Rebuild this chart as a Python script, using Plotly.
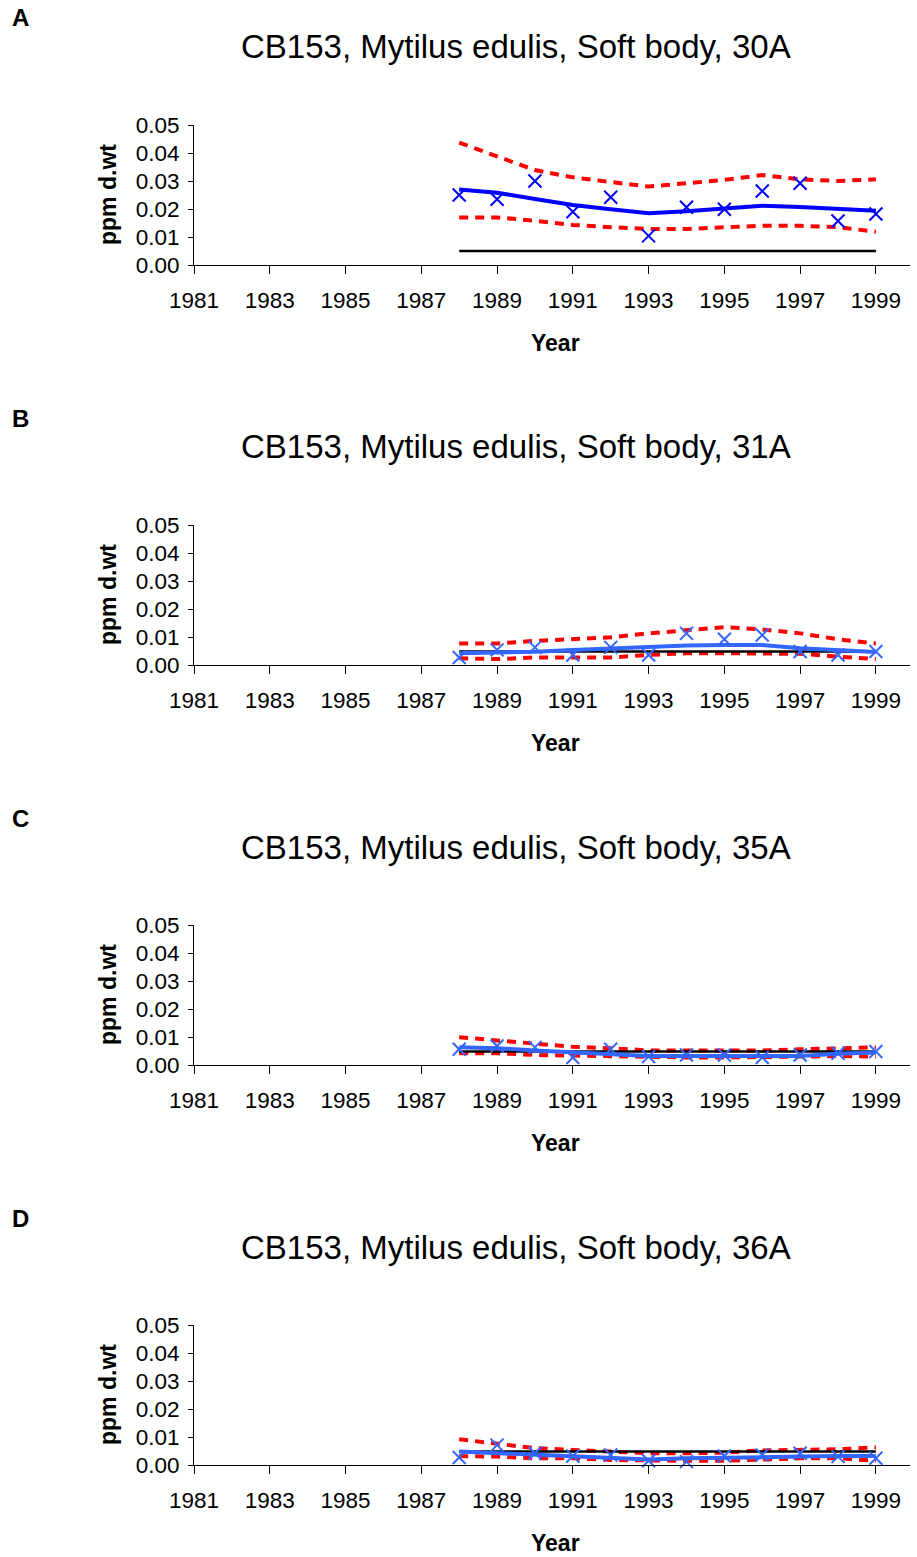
import plotly.graph_objects as go

years = [1988, 1989, 1990, 1991, 1992, 1993, 1994, 1995, 1996, 1997, 1998, 1999]
tick_years = list(range(1981, 2000, 2))
y_ticks = [0.00, 0.01, 0.02, 0.03, 0.04, 0.05]

stations = ["30A", "31A", "35A", "36A"]
panel_letters = ["A", "B", "C", "D"]

# Observed annual concentrations (ppm d.wt)
obs_30A = [0.0250, 0.0235, 0.0300, 0.0190, 0.0242, 0.0104, 0.0206, 0.0199, 0.0264, 0.0292, 0.0157, 0.0182]
obs_31A = [0.0027, 0.0054, 0.0063, 0.0036, 0.0063, 0.0036, 0.0113, 0.0092, 0.0107, 0.0048, 0.0036, 0.0048]
obs_35A = [0.0056, 0.0068, 0.0063, 0.0027, 0.0056, 0.0030, 0.0036, 0.0036, 0.0027, 0.0036, 0.0042, 0.0048]
obs_36A = [0.0027, 0.0071, 0.0042, 0.0032, 0.0036, 0.0015, 0.0012, 0.0032, 0.0036, 0.0042, 0.0030, 0.0024]

# Smoothed trend
trend_30A = [0.0270, 0.0258, 0.0236, 0.0214, 0.0199, 0.0185, 0.0192, 0.0202, 0.0212, 0.0207, 0.0200, 0.0194]
trend_31A = [0.0042, 0.0044, 0.0047, 0.0054, 0.0060, 0.0065, 0.0070, 0.0071, 0.0071, 0.0060, 0.0052, 0.0046]
trend_35A = [0.0063, 0.0060, 0.0052, 0.0045, 0.0040, 0.0032, 0.0032, 0.0032, 0.0032, 0.0032, 0.0040, 0.0045]
trend_36A = [0.0048, 0.0042, 0.0036, 0.0032, 0.0027, 0.0020, 0.0024, 0.0027, 0.0030, 0.0030, 0.0032, 0.0032]

# Upper / lower confidence bands of the trend
upper_30A = [0.0437, 0.0387, 0.0339, 0.0313, 0.0296, 0.0280, 0.0292, 0.0304, 0.0321, 0.0306, 0.0300, 0.0306]
lower_30A = [0.0170, 0.0170, 0.0158, 0.0143, 0.0135, 0.0129, 0.0129, 0.0135, 0.0140, 0.0140, 0.0135, 0.0119]
upper_31A = [0.0077, 0.0077, 0.0086, 0.0092, 0.0099, 0.0113, 0.0125, 0.0135, 0.0127, 0.0113, 0.0092, 0.0077]
lower_31A = [0.0024, 0.0021, 0.0027, 0.0027, 0.0027, 0.0036, 0.0042, 0.0042, 0.0042, 0.0040, 0.0030, 0.0021]
upper_35A = [0.0099, 0.0087, 0.0075, 0.0065, 0.0060, 0.0052, 0.0052, 0.0052, 0.0052, 0.0056, 0.0060, 0.0063]
lower_35A = [0.0042, 0.0042, 0.0036, 0.0033, 0.0030, 0.0027, 0.0027, 0.0027, 0.0027, 0.0030, 0.0032, 0.0030]
upper_36A = [0.0092, 0.0077, 0.0060, 0.0054, 0.0048, 0.0042, 0.0042, 0.0044, 0.0052, 0.0054, 0.0056, 0.0063]
lower_36A = [0.0032, 0.0030, 0.0024, 0.0024, 0.0018, 0.0015, 0.0015, 0.0015, 0.0020, 0.0024, 0.0024, 0.0015]

# Background reference level
reference_level = [0.005, 0.0048, 0.0048, 0.0048]

observed = [obs_30A, obs_31A, obs_35A, obs_36A]
trends = [trend_30A, trend_31A, trend_35A, trend_36A]
uppers = [upper_30A, upper_31A, upper_35A, upper_36A]
lowers = [lower_30A, lower_31A, lower_35A, lower_36A]
blues = ["#0000FF", "#3366FF", "#3366FF", "#3366FF"]

W, H = 917, 1557
FONT = "Liberation Sans, Arial, sans-serif"

fig = go.Figure()

plot_left, plot_right = 194, 910
panel_step = 400
plot_top0, plot_bot0 = 125, 265


def py(pix):
    return 1 - pix / H


annotations = []
for i, st in enumerate(stations):
    n = "" if i == 0 else str(i + 1)
    xa, ya = "x" + n, "y" + n
    off = i * panel_step
    top, bot = plot_top0 + off, plot_bot0 + off

    fig.add_trace(go.Scatter(x=years, y=uppers[i], xaxis=xa, yaxis=ya, mode="lines",
                             line=dict(color="#FF0000", width=4, dash="9px,7px"),
                             showlegend=False, cliponaxis=False))
    fig.add_trace(go.Scatter(x=years, y=lowers[i], xaxis=xa, yaxis=ya, mode="lines",
                             line=dict(color="#FF0000", width=4, dash="9px,7px"),
                             showlegend=False, cliponaxis=False))
    fig.add_trace(go.Scatter(x=[years[0], years[-1]], y=[reference_level[i]] * 2,
                             xaxis=xa, yaxis=ya, mode="lines",
                             line=dict(color="#000000", width=2.5),
                             showlegend=False, cliponaxis=False))
    fig.add_trace(go.Scatter(x=years, y=trends[i], xaxis=xa, yaxis=ya, mode="lines",
                             line=dict(color=blues[i], width=4),
                             showlegend=False, cliponaxis=False))
    fig.add_trace(go.Scatter(x=years, y=observed[i], xaxis=xa, yaxis=ya, mode="markers",
                             marker=dict(symbol="x-thin", size=13,
                                         line=dict(color=blues[i], width=2)),
                             showlegend=False, cliponaxis=False))

    fig.layout["xaxis" + n] = dict(
        domain=[plot_left / W, plot_right / W], anchor=ya,
        range=[1981, 1999.9], tickvals=tick_years, ticktext=[str(t) for t in tick_years],
        showgrid=False, zeroline=False, showline=True, linecolor="#000", linewidth=1,
        ticks="outside", ticklen=8, tickcolor="#000", tickwidth=1,
        ticklabelstandoff=7, automargin=False,
        tickfont=dict(family=FONT, size=22.5, color="#000"),
    )
    fig.layout["yaxis" + n] = dict(
        domain=[py(bot), py(top)], anchor=xa,
        range=[0, 0.05], tickvals=y_ticks, tickformat=".2f",
        showgrid=False, zeroline=False, showline=True, linecolor="#000", linewidth=1,
        ticks="outside", ticklen=5, tickcolor="#000", tickwidth=1,
        ticklabelstandoff=4, automargin=False,
        tickfont=dict(family=FONT, size=22.5, color="#000"),
    )

    annotations.append(dict(text=f"CB153, Mytilus edulis, Soft body, {st}",
                            x=516 / W, y=py(47 + off), xref="paper", yref="paper",
                            xanchor="center", yanchor="middle", showarrow=False,
                            font=dict(family=FONT, size=33, color="#000")))
    annotations.append(dict(text=f"<b>{panel_letters[i]}</b>",
                            x=20 / W, y=py(18 + off), xref="paper", yref="paper",
                            xanchor="center", yanchor="middle", showarrow=False,
                            font=dict(family=FONT, size=24, color="#000")))
    annotations.append(dict(text="<b>Year</b>",
                            x=555 / W, y=py(343 + off), xref="paper", yref="paper",
                            xanchor="center", yanchor="middle", showarrow=False,
                            font=dict(family=FONT, size=23, color="#000")))
    annotations.append(dict(text="<b>ppm d.wt</b>", textangle=-90,
                            x=108 / W, y=py(195 + off), xref="paper", yref="paper",
                            xanchor="center", yanchor="middle", showarrow=False,
                            font=dict(family=FONT, size=23, color="#000")))

fig.update_layout(width=W, height=H,
                  margin=dict(l=0, r=0, t=0, b=0, pad=0, autoexpand=False),
                  paper_bgcolor="white", plot_bgcolor="white",
                  annotations=annotations)

fig.write_html("out.html")
